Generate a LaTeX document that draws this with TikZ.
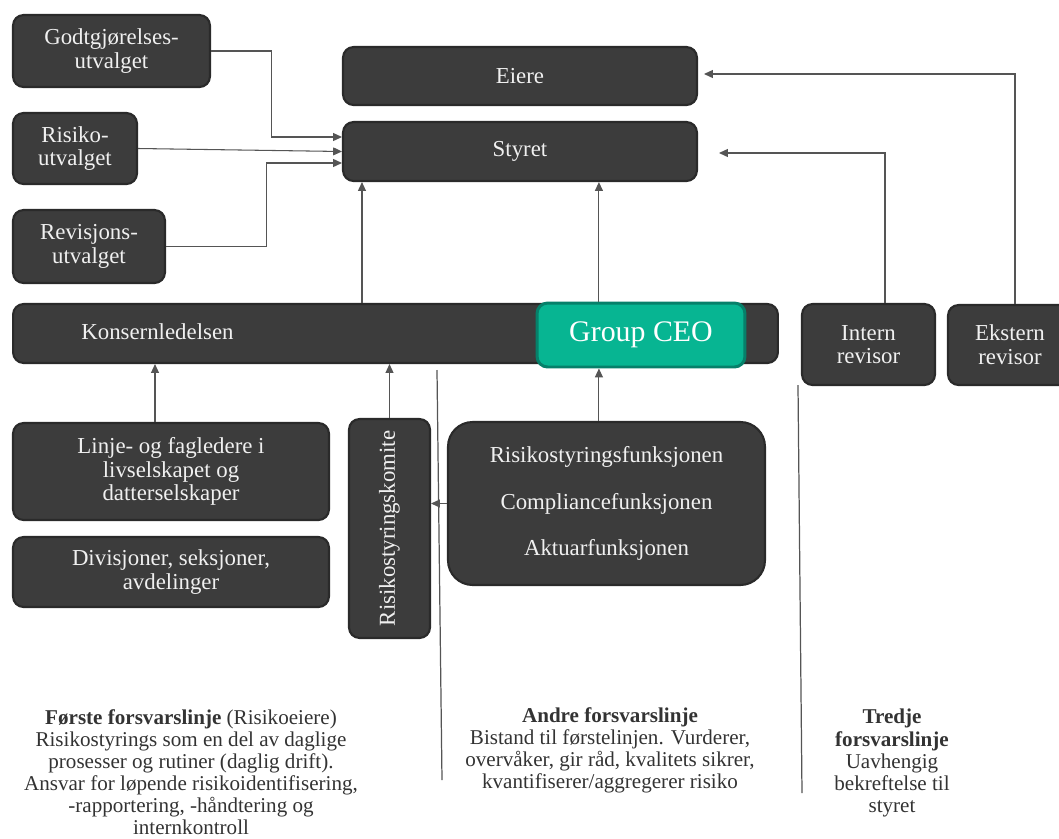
\documentclass[tikz,border=0pt]{standalone}
\usepackage{fontspec}
\IfFontExistsTF{LiberationSerif-Regular.ttf}{%
	\setmainfont{LiberationSerif}[Extension=.ttf, UprightFont=*-Regular, BoldFont=*-Bold, ItalicFont=*-Italic, BoldItalicFont=*-BoldItalic]%
}{%
	\setmainfont{Liberation Serif}%
}
\usetikzlibrary{arrows.meta}
\definecolor{boxfill}{HTML}{3C3C3C}
\definecolor{boxline}{HTML}{2A2A2A}
\definecolor{ceofill}{HTML}{07B592}
\definecolor{ceoline}{HTML}{06806A}
\definecolor{arrgray}{HTML}{555555}
\definecolor{notegray}{HTML}{333333}
\tikzset{
	box/.style={draw=boxline, fill=boxfill, line width=1.2pt, rounded corners=6pt, text=white!94!black, align=center, font=\fontsize{13}{13.5}\selectfont, inner sep=0pt},
	boxtxt/.style={text=white!94!black, font=\fontsize{13}{13.5}\selectfont, inner sep=0pt},
	arr/.style={draw=arrgray, line width=0.6pt, -{Triangle[length=5pt,width=4.5pt]}},
	sepline/.style={draw=arrgray, line width=0.7pt},
	note/.style={text=notegray, align=center, font=\fontsize{12}{12.6}\selectfont, inner sep=0pt}
}

\begin{document}
\begin{tikzpicture}[x=0.02cm, y=-0.02cm]
	%%%%% START %%%%%
	\useasboundingbox (0,0) rectangle (1059,839);
	
	% utvalg
	\node[box, minimum width=3.94cm, minimum height=1.44cm] (godt) at (111.5,51) {Godtgjørelses-\\utvalget};
	\node[box, minimum width=2.48cm, minimum height=1.42cm] (risu) at (75,148.5) {Risiko-\\utvalget};
	\node[box, minimum width=3.04cm, minimum height=1.46cm] (revu) at (89,246.5) {Revisjons-\\utvalget};
	
	\node[box, minimum width=7.08cm, minimum height=1.16cm] (eiere) at (520,76) {Eiere};
	\node[box, minimum width=7.08cm, minimum height=1.18cm] (styret) at (520,151.5) {Styret};
	
	% ledelse
	\node[box, minimum width=15.3cm, minimum height=1.18cm] (kons) at (395.5,333.5) {};
	\node[boxtxt, anchor=west] (konstxt) at ([xshift=1.38cm, yshift=0.03cm]kons.west) {Konsernledelsen};
	\node[box, draw=ceoline, fill=ceofill, line width=1.7pt, minimum width=4.16cm, minimum height=1.28cm, font=\fontsize{17}{18}\selectfont, text=white] (ceo) at (641,335) {Group CEO};
	
	\node[box, minimum width=2.66cm, minimum height=1.62cm] (intern) at (868.5,344.5) {Intern\\revisor};
	\node[box, minimum width=2.48cm, minimum height=1.6cm] (ekstern) at (1010,345) {Ekstern\\revisor};
	
	% linjene
	\node[box, minimum width=6.32cm, minimum height=1.94cm] (linje) at (171,471.5) {Linje- og fagledere i\\livselskapet og\\datterselskaper};
	\node[box, minimum width=6.32cm, minimum height=1.4cm] (divi) at (171,572) {Divisjoner, seksjoner,\\avdelinger};
	\node[box, minimum width=1.62cm, minimum height=4.38cm] (komite) at (389.5,528.5) {};
	\node[boxtxt, rotate=90] (komitetxt) at (komite) {Risikostyringskomite};
	\node[box, rounded corners=14pt, minimum width=6.34cm, minimum height=3.26cm, font=\fontsize{13}{26.5}\selectfont] (funk) at (606.5,503.5) {Risikostyringsfunksjonen\\Compliancefunksjonen\\Aktuarfunksjonen};
	
	% piler
	\coordinate (s1) at ([xshift=0.4cm]styret.south west);
	\coordinate (s2) at ([xshift=5.14cm]styret.south west);
	\coordinate (i1) at ([xshift=0.33cm]intern.north);
	\coordinate (e1) at ([xshift=0.1cm]ekstern.north);
	\coordinate (l1) at ([xshift=-0.32cm]linje.north);
	
	\draw[arr] (godt.east) -- ++(60,0) |- ([yshift=0.29cm]styret.west);
	\draw[arr] (risu.east) -- (styret.west);
	\draw[arr] (revu.east) -- ++(100,0) |- ([yshift=-0.23cm]styret.west);
	\draw[arr] (s1 |- kons.north) -- (s1);
	\draw[arr] (s2 |- ceo.north) -- (s2);
	\draw[arr] (i1) |- ([xshift=0.42cm, yshift=-0.03cm]styret.east);
	\draw[arr] (e1) |- ([xshift=0.12cm, yshift=0.04cm]eiere.east);
	\draw[arr] (l1) -- (l1 |- kons.south);
	\draw[arr] (komite.north) -- (komite.north |- kons.south);
	\draw[arr] (s2 |- funk.north) -- (s2 |- ceo.south);
	\draw[arr] (funk.west) -- (funk.west -| komite.east);
	
	% skillelinjer
	\coordinate (sa1) at (437,370);
	\coordinate (sa2) at (442,780);
	\coordinate (sb1) at (798,385);
	\coordinate (sb2) at (802,793);
	\draw[sepline] (sa1) -- (sa2);
	\draw[sepline] (sb1) -- (sb2);
	
	% forsvarslinjer
	\node[note, anchor=north] (forste) at (191,709) {\textbf{Første forsvarslinje} (Risikoeiere)\\Risikostyrings som en del av daglige\\prosesser og rutiner (daglig drift).\\Ansvar for løpende risikoidentifisering,\\-rapportering, -håndtering og\\internkontroll};
	\node[note, anchor=north] (andre) at (610,707) {\textbf{Andre forsvarslinje}\\Bistand til førstelinjen. Vurderer,\\overvåker, gir råd, kvalitets sikrer,\\kvantifiserer/aggregerer risiko};
	\node[note, anchor=north] (tredje) at (892,709) {\textbf{Tredje}\\\textbf{forsvarslinje}\\Uavhengig\\bekreftelse til\\styret};
	
	%%%%% END %%%%%
\end{tikzpicture}
\end{document}
